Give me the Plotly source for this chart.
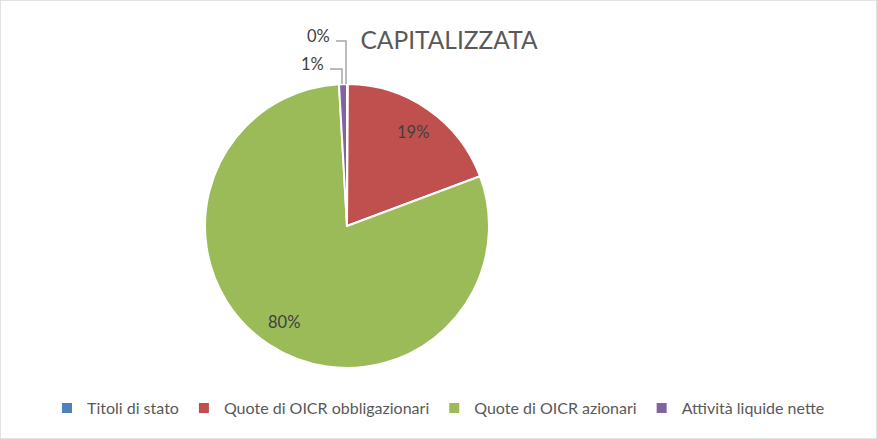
import math
import plotly.graph_objects as go

categories = ["Titoli di stato", "Quote di OICR obbligazionari", "Quote di OICR azionari", "Attività liquide nette"]
values = [0.1, 19.2, 79.8, 0.9]
colors = ["#4F81BD", "#C0504D", "#9BBB59", "#8064A2"]
title_text = "CAPITALIZZATA"

W, H = 877, 439
cx, cy, R = 347, 226, 142  # pie centre / radius in px
FONT = "Lato"

total = sum(values)
pct_labels = [f"{round(v / total * 100)}%" for v in values]

fig = go.Figure(go.Pie(
    labels=categories,
    values=values,
    sort=False,
    direction="clockwise",
    rotation=0,
    marker=dict(colors=colors, line=dict(color="white", width=2)),
    textinfo="none",
    domain=dict(x=[(cx - R) / W, (cx + R) / W], y=[(H - cy - R) / H, (H - cy + R) / H]),
    hoverinfo="label+percent",
))

def px(x):
    return x / W

def py(y):
    return 1 - y / H

shapes = [dict(type="rect", xref="paper", yref="paper", x0=0, y0=0, x1=1, y1=1,
               line=dict(color="#D9D9D9", width=1.5))]
annotations = []

# inside labels for large slices, placed along the slice bisector
cum = 0.0
for i, v in enumerate(values):
    mid = (cum + v / 2) / total * 2 * math.pi
    cum += v
    if v / total < 0.05:
        continue
    r = 0.81 * R
    x = cx + r * math.sin(mid)
    y = cy - r * math.cos(mid)
    annotations.append(dict(text=pct_labels[i], xref="paper", yref="paper",
                            x=px(x), y=py(y), xanchor="center", yanchor="middle",
                            showarrow=False,
                            font=dict(family=FONT, size=16.5, color="#404040")))

# leader lines for small slices (Titoli di stato, Attività liquide)
leaders = [
    (0, (336, 41), (346, 41), (346, 84), (332, 36)),
    (3, (330, 69), (342, 69), (342, 84), (326, 64)),
]
for idx, p1, p2, p3, tpos in leaders:
    shapes.append(dict(type="path", xref="paper", yref="paper",
                       path=f"M {px(p1[0])},{py(p1[1])} L {px(p2[0])},{py(p2[1])} L {px(p3[0])},{py(p3[1])}",
                       line=dict(color="#A6A6A6", width=1.5)))
    annotations.append(dict(text=pct_labels[idx], xref="paper", yref="paper",
                            x=px(tpos[0]), y=py(tpos[1]), xanchor="right", yanchor="middle",
                            showarrow=False,
                            font=dict(family=FONT, size=16.5, color="#404040")))

fig.update_layout(
    width=W, height=H,
    paper_bgcolor="white", plot_bgcolor="white",
    margin=dict(l=0, r=0, t=0, b=0),
    title=dict(text=title_text, x=449 / W, xanchor="center", y=py(40), yanchor="middle",
               font=dict(family=FONT, size=24.5, color="#595959")),
    showlegend=True,
    legend=dict(orientation="h", x=0.5, xanchor="center", y=py(408), yanchor="middle",
                font=dict(family=FONT, size=16, color="#595959"),
                itemwidth=30, tracegroupgap=0),
    shapes=shapes,
    annotations=annotations,
)

fig.write_html("out.html", config={"displayModeBar": False},
               post_script="document.body.style.margin='0';")
